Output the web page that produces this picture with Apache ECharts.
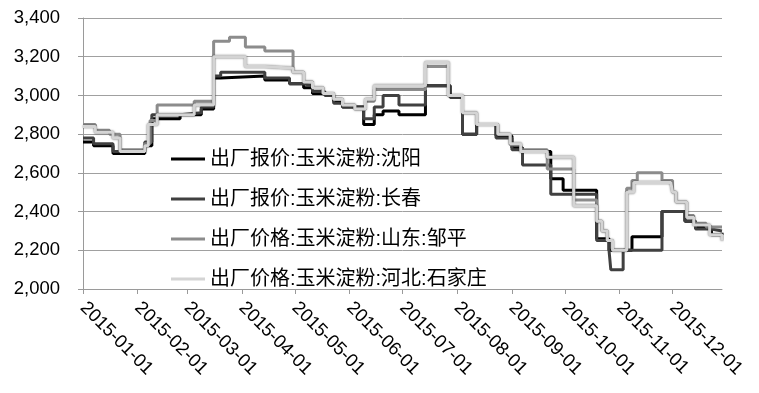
<!DOCTYPE html>
<html>
<head>
<meta charset="utf-8">
<script src="https://cdn.jsdelivr.net/npm/echarts@6/dist/echarts.min.js"></script>
<style>html,body{margin:0;padding:0;background:#fff;}#c{width:759px;height:393px;}</style>
</head>
<body>
<div id="c"></div>
<script>
// Tick labels (month starts)
var tickLabels = ["2015-01-01","2015-02-01","2015-03-01","2015-04-01","2015-05-01","2015-06-01",
  "2015-07-01","2015-08-01","2015-09-01","2015-10-01","2015-11-01","2015-12-01"];
var seriesNames = ["出厂报价:玉米淀粉:沈阳","出厂报价:玉米淀粉:长春","出厂价格:玉米淀粉:山东:邹平","出厂价格:玉米淀粉:河北:石家庄"];

// Change points [date, value] – value holds until the next date
var shenyang = [["2015-01-01",2760],["2015-01-07",2740],["2015-01-18",2700],["2015-02-05",2740],["2015-02-09",2880],
  ["2015-02-25",2900],["2015-03-09",2930],["2015-03-16",3090],["2015-03-20",3100],["2015-04-14",3080],["2015-04-28",3060],
  ["2015-05-06",3040],["2015-05-11",3010],["2015-05-18",3000],["2015-05-23",2970],["2015-05-28",2940],["2015-06-09",2850],
  ["2015-06-15",2900],["2015-06-20",2920],["2015-06-29",2900],["2015-07-14",3050],["2015-07-28",2990],["2015-08-04",2800],
  ["2015-08-12",2850],["2015-08-23",2790],["2015-09-01",2730],["2015-09-07",2710],["2015-09-23",2570],["2015-09-30",2510],
  ["2015-10-19",2260],["2015-10-26",2200],["2015-11-08",2270],["2015-11-25",2400],["2015-12-08",2350],["2015-12-14",2320],
  ["2015-12-23",2280],["2015-12-29",2290]];
var changchun = [["2015-01-01",2780],["2015-01-07",2750],["2015-01-18",2710],["2015-02-05",2760],["2015-02-09",2900],
  ["2015-02-25",2910],["2015-03-09",2940],["2015-03-16",3100],["2015-03-20",3120],["2015-04-14",3090],["2015-04-28",3060],
  ["2015-05-06",3050],["2015-05-11",3020],["2015-05-18",3000],["2015-05-23",2960],["2015-05-28",2940],["2015-06-09",2880],
  ["2015-06-15",2940],["2015-06-20",3000],["2015-06-29",2950],["2015-07-14",3050],["2015-07-28",2990],["2015-08-04",2800],
  ["2015-08-12",2850],["2015-08-23",2780],["2015-09-01",2720],["2015-09-07",2640],["2015-09-23",2490],["2015-10-19",2250],
  ["2015-10-26",2200],["2015-10-27",2100],["2015-11-03",2200],["2015-11-25",2400],["2015-12-08",2350],["2015-12-14",2310],
  ["2015-12-23",2300],["2015-12-29",2300]];
var zouping = [["2015-01-01",2850],["2015-01-08",2820],["2015-01-16",2800],["2015-01-22",2720],["2015-02-05",2750],
  ["2015-02-08",2870],["2015-02-12",2950],["2015-03-05",2970],["2015-03-16",3280],["2015-03-25",3300],["2015-04-03",3250],
  ["2015-04-14",3230],["2015-04-30",3120],["2015-05-06",3070],["2015-05-11",3040],["2015-05-17",3010],["2015-05-23",2980],
  ["2015-05-28",2950],["2015-06-04",2930],["2015-06-10",2970],["2015-06-15",3030],["2015-07-14",3150],["2015-07-27",3000],
  ["2015-08-04",2910],["2015-08-12",2850],["2015-08-24",2800],["2015-08-31",2745],["2015-09-06",2720],["2015-09-21",2620],
  ["2015-10-06",2460],["2015-10-19",2350],["2015-10-22",2300],["2015-10-25",2250],["2015-10-28",2200],["2015-11-05",2520],
  ["2015-11-08",2560],["2015-11-11",2600],["2015-11-25",2560],["2015-12-01",2500],["2015-12-03",2450],["2015-12-09",2380],
  ["2015-12-13",2340],["2015-12-20",2320],["2015-12-29",2320]];
var shijiazhuang = [["2015-01-01",2840],["2015-01-08",2810],["2015-01-18",2780],["2015-01-22",2710],["2015-02-05",2740],
  ["2015-02-07",2850],["2015-02-12",2900],["2015-03-05",2950],["2015-03-16",3200],["2015-04-03",3150],["2015-04-14",3140],
  ["2015-04-30",3120],["2015-05-06",3070],["2015-05-11",3040],["2015-05-17",3010],["2015-05-23",2980],["2015-05-28",2950],
  ["2015-06-04",2930],["2015-06-10",2980],["2015-06-15",3050],["2015-07-14",3170],["2015-07-27",3000],["2015-08-04",2910],
  ["2015-08-12",2850],["2015-08-24",2800],["2015-08-31",2750],["2015-09-06",2710],["2015-09-21",2680],["2015-10-06",2430],
  ["2015-10-19",2350],["2015-10-22",2300],["2015-10-25",2250],["2015-10-28",2200],["2015-11-05",2500],["2015-11-09",2550],
  ["2015-11-30",2550],["2015-12-01",2500],["2015-12-03",2450],["2015-12-09",2370],["2015-12-13",2330],["2015-12-22",2280],
  ["2015-12-29",2250]];
var yTicks = {min: 2000, max: 3400, interval: 200};

function ts(s){ return new Date(s + "T00:00:00").getTime(); }
function pad(n){ return (n < 10 ? "0" : "") + n; }
function fmtDate(v){ var d = new Date(v); return d.getFullYear() + "-" + pad(d.getMonth()+1) + "-" + pad(d.getDate()); }
function toData(arr){ return arr.map(function(p){ return [ts(p[0]), p[1]]; }); }

var tickValues = tickLabels.map(ts);
var colors = ["#000000", "#404040", "#8c8c8c", "#d4d4d4"];
var dataSets = [shenyang, changchun, zouping, shijiazhuang];

var chart = echarts.init(document.getElementById("c"), null, {renderer: "canvas"});
chart.setOption({
  animation: false,
  backgroundColor: "#ffffff",
  grid: {left: 83, right: 37, top: 18, bottom: 104, containLabel: false},
  legend: {
    orient: "vertical", left: 166, top: 144, itemGap: 20, padding: 5,
    icon: "rect", itemWidth: 34, itemHeight: 3, itemSpacing: 4,
    textStyle: {fontFamily: "Liberation Sans, Noto Sans CJK SC", fontSize: 20, color: "#000", lineHeight: 20},
    data: seriesNames
  },
  xAxis: {
    type: "value", min: ts("2015-01-01"), max: ts("2015-12-29"),
    axisLine: {show: true, lineStyle: {color: "#9a9a9a", width: 1}},
    axisTick: {show: true, length: 5, lineStyle: {color: "#9a9a9a"}, customValues: tickValues},
    axisLabel: {
      customValues: tickValues, rotate: -45, margin: 16,
      fontFamily: "Liberation Sans", fontSize: 18.5, color: "#000",
      formatter: function(v){ return fmtDate(v); }
    },
    splitLine: {show: false}
  },
  yAxis: {
    type: "value", min: yTicks.min, max: yTicks.max, interval: yTicks.interval,
    axisLine: {show: true, lineStyle: {color: "#9a9a9a", width: 1}},
    axisTick: {show: true, length: 5, lineStyle: {color: "#9a9a9a"}},
    axisLabel: {margin: 23, fontFamily: "Liberation Sans", fontSize: 18.5, color: "#000",
      formatter: function(v){ return v.toLocaleString("en-US"); }},
    splitLine: {show: true, lineStyle: {color: "#a0a0a0", width: 1}}
  },
  series: seriesNames.map(function(name, i){
    var ls = {color: colors[i], width: 3};
    if (i === 3) { ls.shadowColor = "rgba(0,0,0,0.55)"; ls.shadowBlur = 2; }
    return {
      name: name, type: "line", step: "end", showSymbol: false, symbol: "none",
      data: toData(dataSets[i]), color: colors[i], lineStyle: ls, z: 2 + i
    };
  })
});
</script>
</body>
</html>
